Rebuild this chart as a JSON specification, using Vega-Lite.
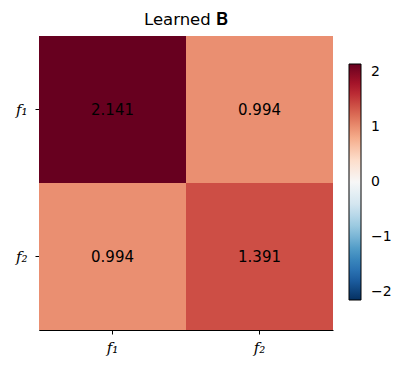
{
  "$schema": "https://vega.github.io/schema/vega-lite/v6.json",
  "autosize": "none",
  "width": 294,
  "height": 294,
  "padding": {"left": 39, "top": 36, "right": 77, "bottom": 43},
  "background": "white",
  "title": {"text": "Learned 𝐁", "font": "DejaVu Sans", "fontSize": 16.5, "fontWeight": "normal", "color": "black", "anchor": "middle", "offset": 8},
  "data": {"values": [
    {"row": "f₁", "col": "f₁", "value": 2.141},
    {"row": "f₁", "col": "f₂", "value": 0.994},
    {"row": "f₂", "col": "f₁", "value": 0.994},
    {"row": "f₂", "col": "f₂", "value": 1.391}
  ]},
  "config": {
    "view": {"stroke": null},
    "axis": {
      "zindex": 1,
      "bandPosition": 0.5,
      "domainColor": "black",
      "domainWidth": 1,
      "tickColor": "black",
      "tickSize": 4,
      "labelFont": "DejaVu Serif",
      "labelFontStyle": "italic",
      "labelFontSize": 15,
      "labelColor": "black",
      "grid": true,
      "gridColor": "white",
      "gridOpacity": 0.25,
      "gridWidth": 1,
      "title": null
    }
  },
  "encoding": {
    "x": {"field": "col", "type": "nominal", "sort": ["f₁", "f₂"], "scale": {"paddingInner": 0, "paddingOuter": 0}, "axis": {"labelAngle": 0, "labelPadding": 6}},
    "y": {"field": "row", "type": "nominal", "sort": ["f₁", "f₂"], "scale": {"paddingInner": 0, "paddingOuter": 0}, "axis": {"labelPadding": 8}}
  },
  "layer": [
    {
      "mark": {"type": "rect"},
      "encoding": {
        "color": {
          "field": "value", "type": "quantitative",
          "scale": {
            "type": "linear",
            "domain": [-2.141, -1.7128, -1.2846, -0.8564, -0.4282, 0, 0.4282, 0.8564, 1.2846, 1.7128, 2.141],
            "range": ["#053061", "#2166ac", "#4393c3", "#92c5de", "#d1e5f0", "#f7f7f7", "#fddbc7", "#f4a582", "#d6604d", "#b2182b", "#67001f"],
            "interpolate": "rgb"
          },
          "legend": {
            "title": null,
            "orient": "none",
            "legendX": 310,
            "legendY": 28,
            "direction": "vertical",
            "gradientLength": 236,
            "gradientThickness": 12,
            "gradientStrokeColor": "black",
            "gradientStrokeWidth": 1,
            "values": [-2, -1, 0, 1, 2],
            "labelFont": "DejaVu Sans",
            "labelFontSize": 14,
            "labelColor": "black",
            "labelOffset": 10,
            "labelOverlap": false
          }
        }
      }
    },
    {
      "mark": {"type": "text", "font": "DejaVu Sans", "fontSize": 15, "color": "black"},
      "encoding": {"text": {"field": "value", "type": "quantitative", "format": ".3f"}}
    }
  ]
}
